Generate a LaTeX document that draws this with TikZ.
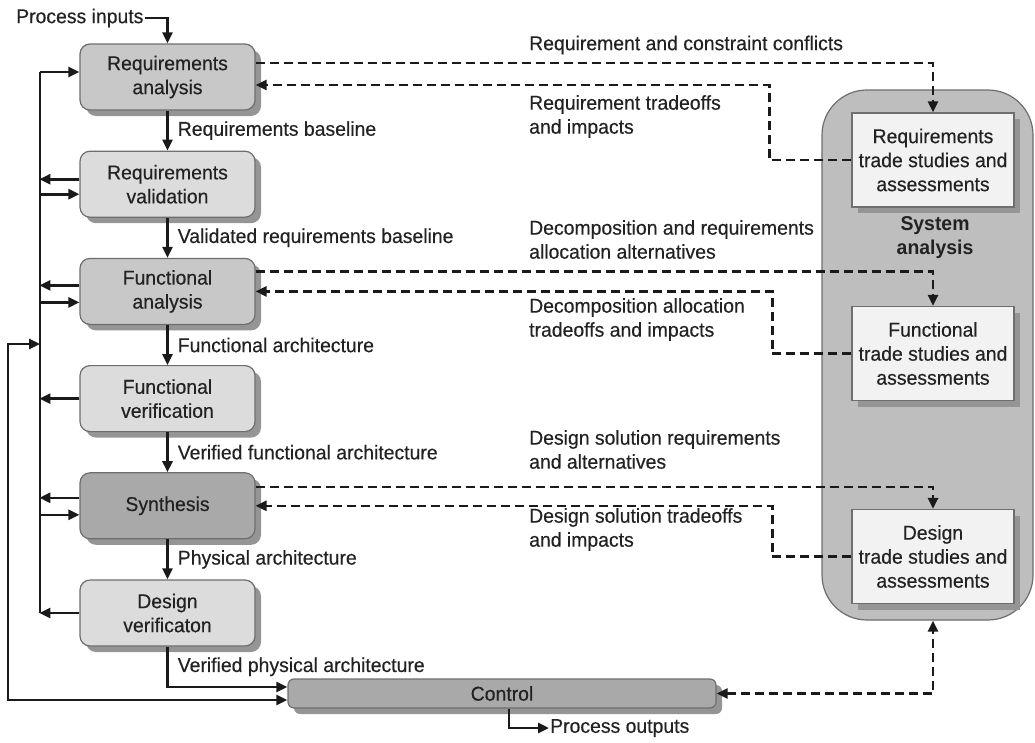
\documentclass[tikz,border=0pt]{standalone}
\usepackage{fontspec}
\setmainfont{Liberation Sans}[FakeStretch=0.97, UprightFeatures={FakeBold=0.35}]
\usetikzlibrary{positioning, arrows.meta, shadows}
\definecolor{ink}{HTML}{1A1A1A}
\definecolor{txt}{HTML}{222222}
\definecolor{frame}{HTML}{6E6E6E}
\definecolor{dark}{HTML}{A9A9A9}
\definecolor{mid}{HTML}{C8C8C8}
\definecolor{light}{HTML}{DCDCDC}
\definecolor{paper}{HTML}{F2F2F2}
\definecolor{panel}{HTML}{BEBEBE}
\definecolor{shade}{HTML}{959595}
\tikzset{
    >={Triangle[length=11pt,width=10pt]}, % filled arrow heads
    node distance=40pt, % gap between two stages of the column
    every node/.style={font=\fontsize{20}{24}\selectfont, text=txt}, % condensed sans everywhere
    stage/.style={draw=frame, line width=1.2pt, rounded corners=10pt, minimum width=175pt, minimum height=66pt, inner sep=0pt, align=center,
        drop shadow={shadow xshift=6pt, shadow yshift=-6pt, fill=shade, opacity=1}}, % process boxes on the left
    trade/.style={draw=frame, line width=1.2pt, fill=paper, minimum width=162pt, minimum height=94pt, inner sep=0pt, align=center,
        drop shadow={shadow xshift=6pt, shadow yshift=-6pt, fill=shade, opacity=1}}, % boxes inside system analysis
    flow/.style={->, draw=ink, line width=2.6pt}, % solid connectors
    feed/.style={flow, dash pattern=on 9pt off 5pt}, % dashed connectors
    lbl/.style={right, inner xsep=9pt, inner ysep=1pt}, % labels next to the column arrows
    note/.style={anchor=west, align=left, inner sep=1pt}, % labels over the dashed lines
}
\begin{document}
\begin{tikzpicture}[x=1pt, y=-1pt]
    \useasboundingbox (0,0) rectangle (1035,742);
    % system analysis panel
    \node[draw=frame, line width=1.2pt, fill=panel, rounded corners=45pt, minimum width=211pt, minimum height=530pt] (sa) at (927.5,355) {};
    \node[align=center, font=\fontsize{20}{24}\selectfont\bfseries] (salbl) at (935,238) {System\\analysis};
    \node[trade] (rt) at (933,160) {Requirements\\trade studies and\\assessments};
    \node[trade] (ft) at (933,353.5) {Functional\\trade studies and\\assessments};
    \node[trade] (dt) at (933,556.5) {Design\\trade studies and\\assessments};

    % process column
    \node[stage, fill=mid] (ra) at (167.5,77) {Requirements\\analysis};
    \node[stage, fill=light, below=of ra] (rv) {Requirements\\validation};
    \node[stage, fill=mid, below=of rv] (fa) {Functional\\analysis};
    \node[stage, fill=light, below=of fa] (fv) {Functional\\verification};
    \node[stage, fill=dark, below=of fv] (syn) {Synthesis};
    \node[stage, fill=light, below=of syn] (dv) {Design\\verificaton};
    \node[stage, fill=dark, rounded corners=6pt, minimum width=428pt, minimum height=29pt] (ctl) at (502,693.5) {Control};
    \node[anchor=west, inner sep=1pt] (pin) at (15,18) {Process inputs};
    \node[anchor=west, inner sep=1pt] (pout) at (549,728) {Process outputs};

    \draw[flow] (pin.east) -| (ra.north);
    \draw[flow] (ra) -- (rv) node[lbl, midway] (l1) {Requirements baseline};
    \draw[flow] (rv) -- (fa) node[lbl, midway] (l2) {Validated requirements baseline};
    \draw[flow] (fa) -- (fv) node[lbl, midway] (l3) {Functional architecture};
    \draw[flow] (fv) -- (syn) node[lbl, midway] (l4) {Verified functional architecture};
    \draw[flow] (syn) -- (dv) node[lbl, midway] (l5) {Physical architecture};
    \draw[flow] (dv.south) |- ([yshift=6.5pt]ctl.west) node[lbl, pos=0.25] (l6) {Verified physical architecture};
    \draw[flow] ([xshift=7pt]ctl.south) |- (pout.west);

    % feedback bus
    \coordinate (bt) at (40,72);
    \coordinate (lp) at (8,344);
    \draw[flow, -] (bt) -- (bt |- dv.west);
    \draw[flow] (bt) -- ([yshift=5pt]ra.west);
    \draw[flow] ([yshift=5pt]rv.west) -- ++(-40,0);
    \draw[flow, <-] ([yshift=-10pt]rv.west) -- ++(-40,0);
    \draw[flow] ([yshift=6pt]fa.west) -- ++(-40,0);
    \draw[flow, <-] ([yshift=-11pt]fa.west) -- ++(-40,0);
    \draw[flow] (fv.west) -- ++(-40,0);
    \draw[flow] ([yshift=8pt]syn.west) -- ++(-40,0);
    \draw[flow, <-] ([yshift=-9pt]syn.west) -- ++(-40,0);
    \draw[flow] (dv.west) -- ++(-40,0);
    \draw[flow, <->] (bt |- lp) -- (lp) |- ([yshift=-6.5pt]ctl.west);

    % trade study loops
    \draw[feed] ([yshift=14pt]ra.east) -| (rt.north);
    \draw[feed] (rt.west) -- ++(-82,0) |- ([yshift=-8pt]ra.east);
    \draw[feed] ([yshift=20pt]fa.east) -| (ft.north);
    \draw[feed] (ft.west) -- ++(-79,0) |- (fa.east);
    \draw[feed] ([yshift=19pt]syn.east) -| (dt.north);
    \draw[feed] (dt.west) -- ++(-79,0) |- (syn.east);
    \draw[feed, <->] (ctl.east) -| (dt.south |- sa.south);

    \node[note] (n1) at (528,45) {Requirement and constraint conflicts};
    \node[note] (n2) at (528,116.5) {Requirement tradeoffs\\and impacts};
    \node[note] (n3) at (528,239.5) {Decomposition and requirements\\allocation alternatives};
    \node[note] (n4) at (528,319.5) {Decomposition allocation\\tradeoffs and impacts};
    \node[note] (n5) at (528,449.5) {Design solution requirements\\and alternatives};
    \node[note] (n6) at (528,529.5) {Design solution tradeoffs\\and impacts};
\end{tikzpicture}
\end{document}
